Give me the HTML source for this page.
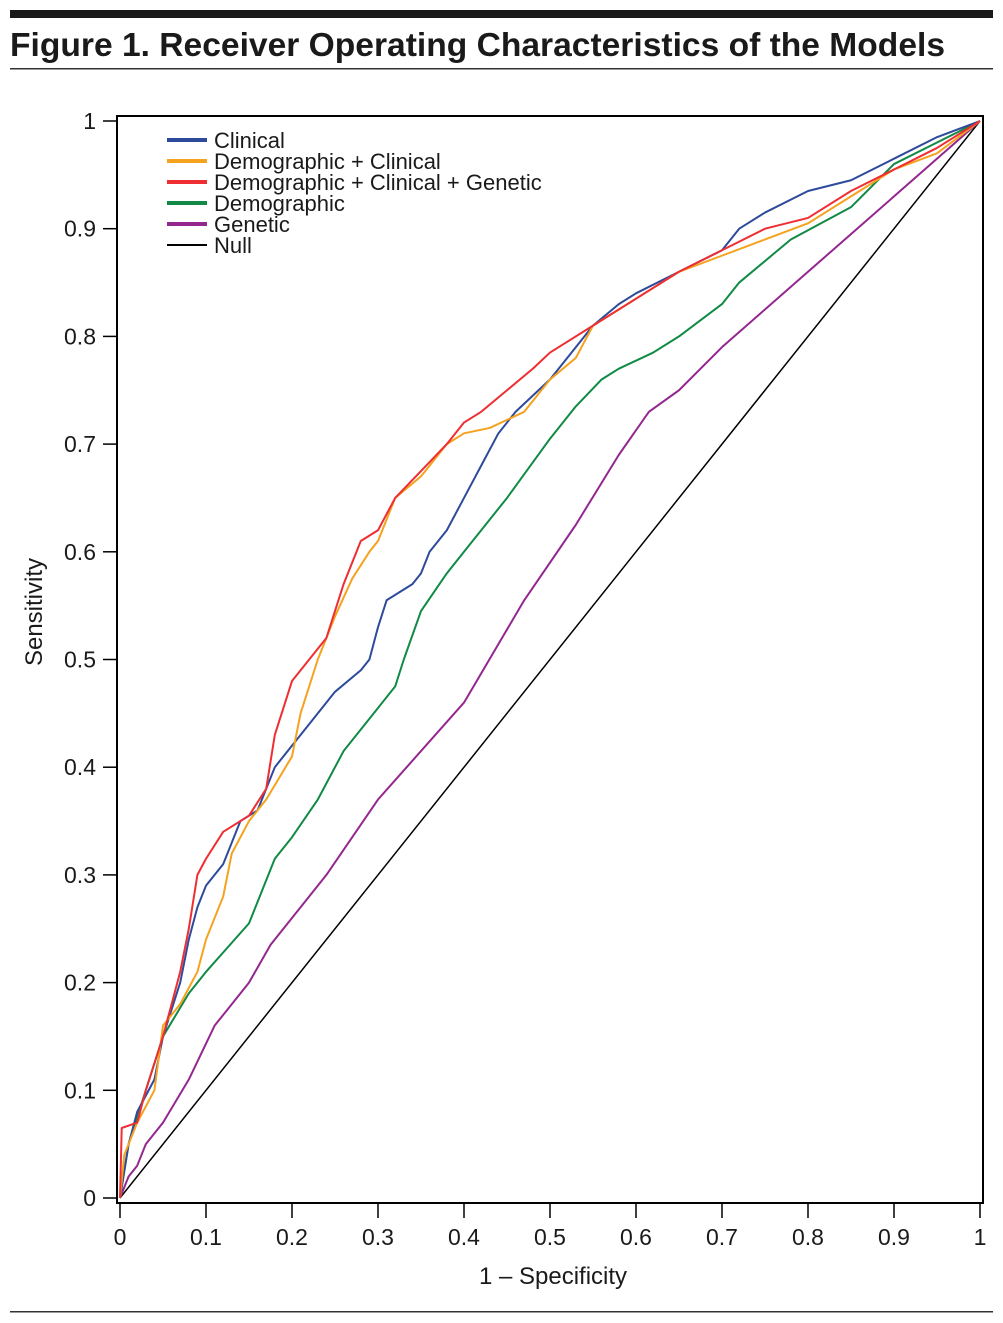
<!DOCTYPE html>
<html><head><meta charset="utf-8"><style>
html,body{margin:0;padding:0;background:#fff;}
svg{display:block;font-family:"Liberation Sans",sans-serif;}
</style></head><body>
<svg width="1003" height="1323" viewBox="0 0 1003 1323">
<rect x="10" y="10" width="983" height="8" fill="#1a1a1a"/>
<text x="10" y="56" font-size="33" font-weight="bold" fill="#1a1a1a" textLength="935" lengthAdjust="spacingAndGlyphs">Figure 1. Receiver Operating Characteristics of the Models</text>
<rect x="10" y="68" width="983" height="1.5" fill="#333"/>
<rect x="10" y="1311" width="983" height="1.5" fill="#333"/>
<rect x="117" y="116" width="866" height="1087" fill="none" stroke="#000" stroke-width="2"/>
<g id="axes"></g>
<g id="series"></g>
<g id="legend"></g>
<text x="553" y="1284" font-size="24" text-anchor="middle" fill="#1a1a1a">1 – Specificity</text>
<text transform="translate(42,612) rotate(-90)" font-size="24" text-anchor="middle" fill="#1a1a1a">Sensitivity</text>
</svg>
<script>
const ticks=[0,0.1,0.2,0.3,0.4,0.5,0.6,0.7,0.8,0.9,1];
const tickLabels=["0","0.1","0.2","0.3","0.4","0.5","0.6","0.7","0.8","0.9","1"];
const seriesNames=["Clinical","Demographic + Clinical","Demographic + Clinical + Genetic","Demographic","Genetic","Null"];
const clinicalX=[0,0.01,0.02,0.04,0.05,0.07,0.08,0.09,0.1,0.12,0.14,0.16,0.18,0.2,0.22,0.25,0.28,0.29,0.3,0.31,0.33,0.34,0.35,0.36,0.38,0.4,0.42,0.44,0.46,0.48,0.5,0.52,0.55,0.58,0.6,0.65,0.7,0.72,0.75,0.8,0.85,0.9,0.95,1];
const clinicalY=[0,0.05,0.08,0.11,0.15,0.2,0.24,0.27,0.29,0.31,0.35,0.36,0.4,0.42,0.44,0.47,0.49,0.5,0.53,0.555,0.565,0.57,0.58,0.6,0.62,0.65,0.68,0.71,0.73,0.745,0.76,0.78,0.81,0.83,0.84,0.86,0.88,0.9,0.915,0.935,0.945,0.965,0.985,1];
const demoClinX=[0,0.005,0.02,0.04,0.05,0.07,0.09,0.1,0.12,0.13,0.15,0.17,0.2,0.21,0.23,0.25,0.27,0.29,0.3,0.32,0.35,0.38,0.4,0.43,0.47,0.5,0.53,0.55,0.6,0.65,0.7,0.75,0.8,0.85,0.9,0.95,1];
const demoClinY=[0,0.04,0.07,0.1,0.16,0.18,0.21,0.24,0.28,0.32,0.35,0.37,0.41,0.45,0.5,0.54,0.575,0.6,0.61,0.65,0.67,0.7,0.71,0.715,0.73,0.76,0.78,0.81,0.835,0.86,0.875,0.89,0.905,0.93,0.955,0.97,1];
const allX=[0,0.002,0.02,0.03,0.05,0.07,0.08,0.09,0.1,0.12,0.15,0.17,0.18,0.2,0.22,0.24,0.26,0.28,0.3,0.32,0.35,0.38,0.4,0.42,0.45,0.48,0.5,0.55,0.6,0.65,0.7,0.75,0.8,0.85,0.9,0.95,1];
const allY=[0,0.065,0.07,0.1,0.15,0.21,0.25,0.3,0.315,0.34,0.355,0.38,0.43,0.48,0.5,0.52,0.57,0.61,0.62,0.65,0.675,0.7,0.72,0.73,0.75,0.77,0.785,0.81,0.835,0.86,0.88,0.9,0.91,0.935,0.955,0.975,1];
const demoX=[0,0.01,0.03,0.05,0.08,0.1,0.15,0.18,0.2,0.23,0.26,0.3,0.32,0.33,0.35,0.38,0.4,0.42,0.45,0.5,0.53,0.56,0.58,0.62,0.65,0.7,0.72,0.78,0.85,0.9,0.95,1];
const demoY=[0,0.05,0.1,0.15,0.19,0.21,0.255,0.315,0.335,0.37,0.415,0.455,0.475,0.5,0.545,0.58,0.6,0.62,0.65,0.705,0.735,0.76,0.77,0.785,0.8,0.83,0.85,0.89,0.92,0.96,0.98,1];
const genX=[0,0.01,0.02,0.03,0.05,0.08,0.11,0.15,0.175,0.24,0.3,0.4,0.47,0.53,0.58,0.615,0.65,0.7,0.8,0.9,1];
const genY=[0,0.02,0.03,0.05,0.07,0.11,0.16,0.2,0.235,0.3,0.37,0.46,0.555,0.625,0.69,0.73,0.75,0.79,0.86,0.93,1];
const nullX=[0,1];
const nullY=[0,1];
const colors=["#2e4b9b","#f5a21f","#ee2e32","#108a45","#93278f","#000"];
const NS="http://www.w3.org/2000/svg";
const sx=v=>120+v*860, sy=v=>1198-v*1077;
const axes=document.getElementById('axes');
ticks.forEach((t,i)=>{
  let l=document.createElementNS(NS,'line');
  l.setAttribute('x1',sx(t));l.setAttribute('x2',sx(t));l.setAttribute('y1',1203);l.setAttribute('y2',1218);
  l.setAttribute('stroke','#000');l.setAttribute('stroke-width','1.5');
  
  
  axes.appendChild(l);
  let tx=document.createElementNS(NS,'text');
  tx.setAttribute('x',sx(t));tx.setAttribute('y',1245);tx.setAttribute('font-size','23');tx.setAttribute('text-anchor','middle');tx.setAttribute('fill','#1a1a1a');
  tx.textContent=tickLabels[i];
  
  
  axes.appendChild(tx);
  let l2=document.createElementNS(NS,'line');
  l2.setAttribute('x1',103);l2.setAttribute('x2',117);l2.setAttribute('y1',sy(t));l2.setAttribute('y2',sy(t));
  l2.setAttribute('stroke','#000');l2.setAttribute('stroke-width','1.5');
  
  
  axes.appendChild(l2);
  let ty=document.createElementNS(NS,'text');
  ty.setAttribute('x',96);ty.setAttribute('y',sy(t)+8);ty.setAttribute('font-size','23');ty.setAttribute('text-anchor','end');ty.setAttribute('fill','#1a1a1a');
  ty.textContent=tickLabels[i];
  
  
  axes.appendChild(ty);
});
const data=[[clinicalX,clinicalY],[demoClinX,demoClinY],[allX,allY],[demoX,demoY],[genX,genY],[nullX,nullY]];
const order=[5,4,3,0,1,2];
const sg=document.getElementById('series');
order.forEach(i=>{
  const [xs,ys]=data[i];
  let p=document.createElementNS(NS,'polyline');
  p.setAttribute('points',xs.map((x,k)=>sx(x)+','+sy(ys[k])).join(' '));
  p.setAttribute('fill','none');p.setAttribute('stroke',colors[i]);p.setAttribute('stroke-width',i==5?'1.5':'2');
  p.setAttribute('stroke-linejoin','round');
  
  
  sg.appendChild(p);
});
const lg=document.getElementById('legend');
seriesNames.forEach((n,i)=>{
  const y=140+i*21;
  let l=document.createElementNS(NS,'line');
  l.setAttribute('x1',167);l.setAttribute('x2',207);l.setAttribute('y1',y);l.setAttribute('y2',y);
  l.setAttribute('stroke',colors[i]);l.setAttribute('stroke-width',i==5?'2':'4');
  
  
  lg.appendChild(l);
  let t=document.createElementNS(NS,'text');
  t.setAttribute('x',214);t.setAttribute('y',y+8);t.setAttribute('font-size','22');t.setAttribute('fill','#1a1a1a');
  t.textContent=n;
  
  
  lg.appendChild(t);
});
</script>
</body></html>
